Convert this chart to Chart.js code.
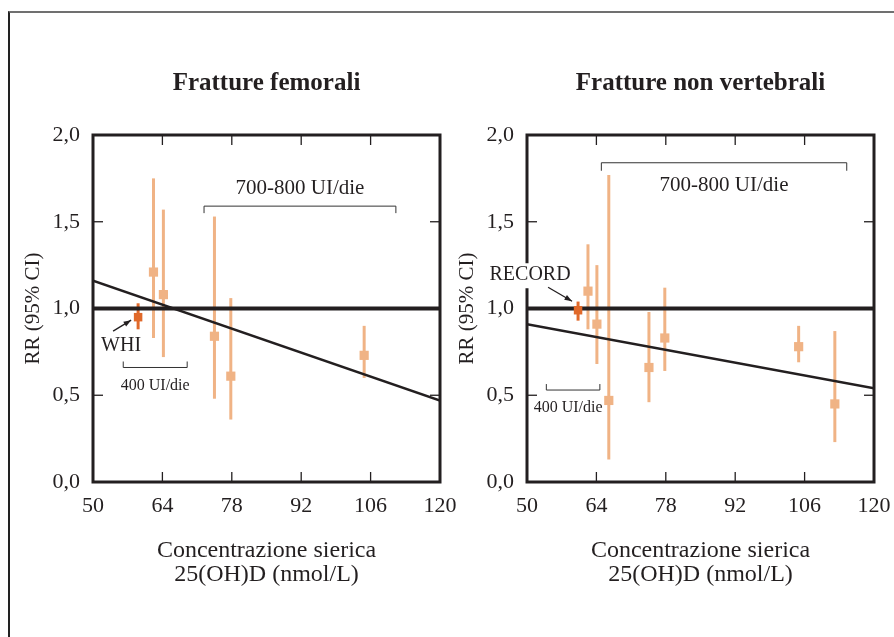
<!DOCTYPE html>
<html>
<head>
<meta charset="utf-8">
<script src="https://cdn.jsdelivr.net/npm/chart.js@4.4.1/dist/chart.umd.min.js"></script>
<style>
  html, body { margin: 0; padding: 0; background: #fff; }
  body { width: 894px; height: 637px; position: relative; overflow: hidden; }
  #frame { position: absolute; left: 8px; top: 11px; width: 900px; height: 700px;
           border-top: 2px solid #707070; border-left: 2px solid #222; }
  #femCanvas { position: absolute; left: 0; top: 0; }
  #nvCanvas { position: absolute; left: 430px; top: 0; }
</style>
</head>
<body>
<div id="frame"></div>
<canvas id="femCanvas" width="480" height="637"></canvas>
<canvas id="nvCanvas" width="490" height="637"></canvas>
<script>
// axis ticks (shared)
const xTicks = [50, 64, 78, 92, 106, 120];
const yTicks = [0, 0.5, 1.0, 1.5, 2.0];

// Fratture femorali
const femX = [62.2, 64.2, 74.5, 77.8, 104.7];
const femRR = [1.21, 1.08, 0.84, 0.61, 0.73];
const femLo = [0.83, 0.72, 0.48, 0.36, 0.60];
const femHi = [1.75, 1.57, 1.53, 1.06, 0.90];
const whiX = [59.1];
const whiRR = [0.95];
const whiLo = [0.88];
const whiHi = [1.03];
const femTrendX = [50, 120];
const femTrendY = [1.16, 0.47];
const femHighX = [72.4, 111.1];   // 700-800 UI/die
const femHighY = 1.59;
const femLowX = [56.1, 69.0];     // 400 UI/die
const femLowY = 0.66;

// Fratture non vertebrali
const nvX = [62.3, 64.1, 66.5, 74.6, 77.8, 104.8, 112.1];
const nvRR = [1.10, 0.91, 0.47, 0.66, 0.83, 0.78, 0.45];
const nvLo = [0.88, 0.68, 0.13, 0.46, 0.64, 0.69, 0.23];
const nvHi = [1.37, 1.25, 1.77, 0.98, 1.12, 0.90, 0.87];
const recordX = [60.3];
const recordRR = [0.99];
const recordLo = [0.93];
const recordHi = [1.04];
const nvTrendX = [50, 120];
const nvTrendY = [0.91, 0.54];
const nvHighX = [65.0, 114.5];
const nvHighY = 1.84;
const nvLowX = [53.9, 64.7];
const nvLowY = 0.53;

const refLine = [1.0, 1.0];

const SERIF = "'Liberation Serif', 'Times New Roman', serif";
const INK = '#231f20';
const LIGHT = '#f0b385';
const DARK = '#e0692a';

const pts = (xs, ys) => xs.map((x, i) => ({ x: x, y: ys[i] }));
const comma = v => v.toFixed(1).replace('.', ',');

// error bars, frame with inward ticks, brackets and callouts
const marksPlugin = {
  id: 'marks',
  beforeDatasetsDraw(chart) {
    const ctx = chart.ctx;
    const yScale = chart.scales.y;
    chart.data.datasets.forEach((ds, i) => {
      if (!ds.errLo) return;
      const meta = chart.getDatasetMeta(i);
      ctx.save();
      ctx.strokeStyle = ds.backgroundColor;
      ctx.lineWidth = 3;
      meta.data.forEach((pt, j) => {
        ctx.beginPath();
        ctx.moveTo(pt.x, yScale.getPixelForValue(ds.errLo[j]));
        ctx.lineTo(pt.x, yScale.getPixelForValue(ds.errHi[j]));
        ctx.stroke();
      });
      ctx.restore();
    });
  },
  afterDraw(chart, args, opts) {
    const { ctx, chartArea: a } = chart;
    const xs = chart.scales.x, ys = chart.scales.y;
    const seg = (x0, y0, x1, y1) => {
      ctx.beginPath(); ctx.moveTo(x0, y0); ctx.lineTo(x1, y1); ctx.stroke();
    };
    ctx.save();
    ctx.strokeStyle = INK;
    ctx.lineWidth = 1.3;
    xTicks.slice(1, -1).forEach(v => {
      const px = xs.getPixelForValue(v);
      seg(px, a.top, px, a.top + 10);
      seg(px, a.bottom, px, a.bottom - 10);
    });
    yTicks.slice(1, -1).forEach(v => {
      const py = ys.getPixelForValue(v);
      seg(a.left, py, a.left + 10, py);
      seg(a.right, py, a.right - 10, py);
    });
    ctx.lineWidth = 3;
    ctx.strokeRect(a.left, a.top, a.right - a.left, a.bottom - a.top);

    // brackets
    ctx.lineWidth = 1;
    ctx.strokeStyle = '#333';
    ctx.fillStyle = INK;
    ctx.textAlign = 'center';
    ctx.textBaseline = 'middle';
    opts.brackets.forEach(b => {
      const x0 = xs.getPixelForValue(b.x[0]);
      const x1 = xs.getPixelForValue(b.x[1]);
      const py = ys.getPixelForValue(b.y);
      ctx.beginPath();
      ctx.moveTo(x0, py + b.leg);
      ctx.lineTo(x0, py);
      ctx.lineTo(x1, py);
      ctx.lineTo(x1, py + b.leg);
      ctx.stroke();
      ctx.font = b.font;
      ctx.fillText(b.text, (x0 + x1) / 2 + (b.dx || 0), py + b.dy);
    });

    // callout label with arrow
    const c = opts.callout;
    const p = chart.getDatasetMeta(c.dataset).data[0];
    ctx.font = c.font;
    const tx = p.x + c.textDx, ty = p.y + c.textDy;
    if (c.bg) {
      const w = ctx.measureText(c.text).width;
      ctx.fillStyle = '#fff';
      ctx.fillRect(tx - w / 2 - 2, ty - 12, w + 4, 25);
    }
    ctx.fillStyle = INK;
    ctx.fillText(c.text, tx, ty);
    const ax0 = p.x + c.arrow[0], ay0 = p.y + c.arrow[1];
    const ax1 = p.x + c.arrow[2], ay1 = p.y + c.arrow[3];
    ctx.strokeStyle = INK;
    ctx.lineWidth = 1.3;
    seg(ax0, ay0, ax1, ay1);
    const ang = Math.atan2(ay1 - ay0, ax1 - ax0);
    ctx.beginPath();
    ctx.moveTo(ax1, ay1);
    ctx.lineTo(ax1 - 8 * Math.cos(ang - 0.35), ay1 - 8 * Math.sin(ang - 0.35));
    ctx.lineTo(ax1 - 8 * Math.cos(ang + 0.35), ay1 - 8 * Math.sin(ang + 0.35));
    ctx.closePath();
    ctx.fill();
    ctx.restore();
  }
};

function makePanel(canvasId, title, padLeft, padRight, d) {
  return new Chart(document.getElementById(canvasId), {
    type: 'scatter',
    data: {
      datasets: [
        { label: d.hiLabel, data: pts(d.hiX, d.hiRR), errLo: d.hiLo, errHi: d.hiHi,
          backgroundColor: DARK, pointStyle: 'rect', pointRadius: 6, borderWidth: 0, order: 0 },
        { label: 'studi', data: pts(d.x, d.rr), errLo: d.lo, errHi: d.hi,
          backgroundColor: LIGHT, pointStyle: 'rect', pointRadius: 6.5, borderWidth: 0, order: 1 },
        { type: 'line', label: 'RR = 1', data: pts(d.trendX, refLine),
          borderColor: INK, borderWidth: 4, pointRadius: 0, order: 3 },
        { type: 'line', label: 'trend', data: pts(d.trendX, d.trendY),
          borderColor: INK, borderWidth: 2.5, pointRadius: 0, order: 2 }
      ]
    },
    options: {
      responsive: false,
      animation: false,
      layout: { padding: { left: padLeft, right: padRight, top: 0, bottom: 50 } },
      plugins: {
        legend: { display: false },
        tooltip: { enabled: false },
        title: {
          display: true, text: title, fullSize: false, color: INK,
          font: { family: SERIF, size: 25, weight: 'bold', lineHeight: 1.2 },
          padding: { top: 69, bottom: 36 }
        },
        marks: { brackets: d.brackets, callout: d.callout }
      },
      scales: {
        x: {
          type: 'linear', min: 50, max: 120,
          afterBuildTicks: s => { s.ticks = xTicks.map(v => ({ value: v })); },
          afterFit: s => { s.height = 105; },
          grid: { display: false, drawTicks: false },
          border: { display: false },
          ticks: { color: INK, padding: 11, font: { family: SERIF, size: 22, lineHeight: 1.2 } },
          title: {
            display: true, text: ['Concentrazione sierica', '25(OH)D (nmol/L)'], color: INK,
            font: { family: SERIF, size: 24, lineHeight: 1.0 }, padding: { top: 0, bottom: 0 }
          }
        },
        y: {
          type: 'linear', min: 0, max: 2,
          afterBuildTicks: s => { s.ticks = yTicks.map(v => ({ value: v })); },
          afterFit: s => { s.width = 80; },
          grid: { display: false, drawTicks: false },
          border: { display: false },
          ticks: { color: INK, padding: 13, callback: v => comma(v),
                   font: { family: SERIF, size: 22, lineHeight: 1.2 } },
          title: {
            display: true, text: 'RR (95% CI)', color: INK,
            font: { family: SERIF, size: 21, lineHeight: 1.2 }, padding: { top: 8, bottom: 0 }
          }
        }
      }
    },
    plugins: [marksPlugin]
  });
}

makePanel('femCanvas', 'Fratture femorali', 13, 40, {
  x: femX, rr: femRR, lo: femLo, hi: femHi,
  hiLabel: 'WHI', hiX: whiX, hiRR: whiRR, hiLo: whiLo, hiHi: whiHi,
  trendX: femTrendX, trendY: femTrendY,
  brackets: [
    { x: femHighX, y: femHighY, leg: 7, text: '700-800 UI/die', font: '21px ' + SERIF, dy: -18 },
    { x: femLowX, y: femLowY, leg: -6, text: '400 UI/die', font: '16px ' + SERIF, dy: 18 }
  ],
  callout: { dataset: 0, text: 'WHI', font: '20px ' + SERIF, textDx: -17, textDy: 29,
             arrow: [-25, 14, -7, 3], bg: false }
});

makePanel('nvCanvas', 'Fratture non vertebrali', 17, 46, {
  x: nvX, rr: nvRR, lo: nvLo, hi: nvHi,
  hiLabel: 'RECORD', hiX: recordX, hiRR: recordRR, hiLo: recordLo, hiHi: recordHi,
  trendX: nvTrendX, trendY: nvTrendY,
  brackets: [
    { x: nvHighX, y: nvHighY, leg: 8, text: '700-800 UI/die', font: '21px ' + SERIF, dy: 23 },
    { x: nvLowX, y: nvLowY, leg: -6, text: '400 UI/die', font: '16px ' + SERIF, dy: 18, dx: -5 }
  ],
  callout: { dataset: 0, text: 'RECORD', font: '20px ' + SERIF, textDx: -48, textDy: -35,
             arrow: [-30, -23, -6, -9], bg: true }
});
</script>
</body>
</html>
